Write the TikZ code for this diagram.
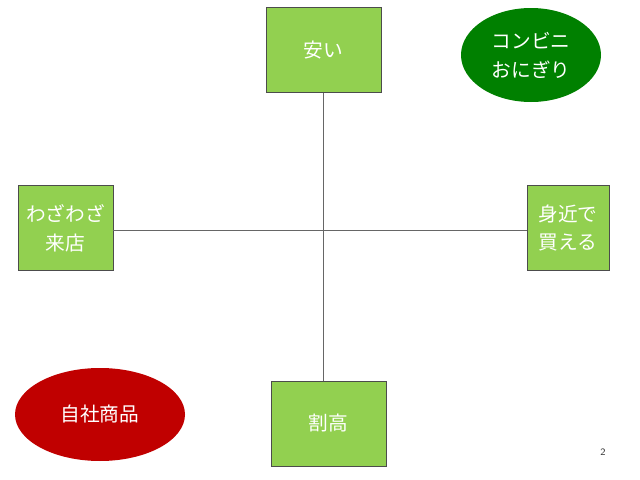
\documentclass[tikz,border=0pt]{standalone}
\usepackage{fontspec}
\newfontfamily\jpfont{Noto Sans CJK JP}
\usetikzlibrary{shapes.geometric}
\definecolor{boxgreen}{HTML}{92D050}
\definecolor{darkgreen}{HTML}{008000}
\definecolor{darkred}{HTML}{C00000}
\begin{document}
\begin{tikzpicture}[x=0.025cm,y=-0.025cm,align=center,every node/.style={inner sep=0,outer sep=0,text=white,font=\jpfont\fontsize{14}{20.5}\selectfont},
  axisbox/.style={draw=black!70,fill=boxgreen,minimum width=#1*0.025cm,minimum height=85*0.025cm},
  blob/.style={ellipse,fill=#1,minimum width=140*0.025cm,minimum height=94*0.025cm}]
\useasboundingbox (0,0) rectangle (640,480);
\node (yasui) at (323.5,50) [axisbox=115] {安い};
\node (wari) at (328.5,423.5) [axisbox=115] {割高};
\node (wazawaza) at (65.5,228) [axisbox=95] {わざわざ\\来店};
\node (mijika) at (568,228) [axisbox=82] {身近で\\買える};
\node (conveni) at (531,55) [blob=darkgreen] {コンビニ\\おにぎり};
\node (jisha) at (100,414.5) [blob=darkred,minimum width=170*0.025cm,minimum height=93*0.025cm] {自社商品};
\node (page) at (603,452) [text=black!80,font=\sffamily\fontsize{7}{8}\selectfont] {2};
\draw [black!60] (yasui.south) -- (yasui.south |- wari.north);
\draw [black!60] ([yshift=-2*0.025cm]wazawaza.east) -- ([yshift=-2*0.025cm]mijika.west);
\end{tikzpicture}
\end{document}
